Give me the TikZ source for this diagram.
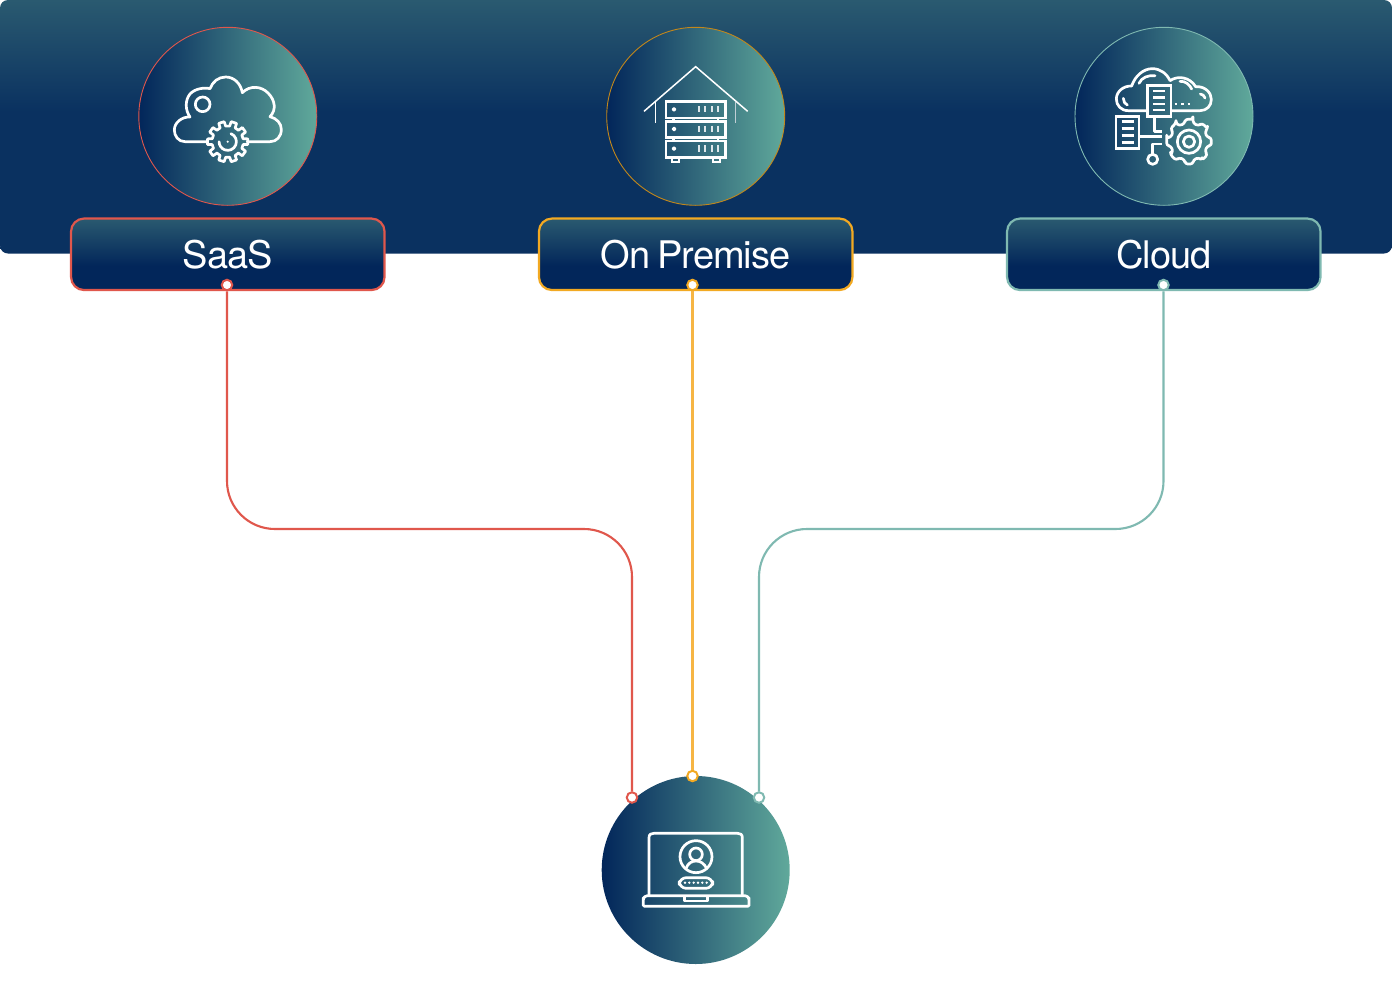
\documentclass[tikz,border=0pt]{standalone}
\usepackage{fontspec}
\setmainfont{TeX Gyre Heros}[LetterSpace=-2.5]
\definecolor{cred}{HTML}{E0574C}
\definecolor{corange}{HTML}{F2A922}
\definecolor{cwire}{HTML}{F6B544}
\definecolor{cteal}{HTML}{7FB9B1}
\definecolor{ctop}{HTML}{2A5A70}
\definecolor{cband}{HTML}{0A3160}
\definecolor{cnavy}{HTML}{02265A}
\definecolor{cmid}{HTML}{2B5D72}
\definecolor{cright}{HTML}{60A99B}
\pgfdeclareverticalshading{bandshade}{100bp}{color(0bp)=(cband); color(53bp)=(cband); color(75bp)=(ctop); color(100bp)=(ctop)}
\pgfdeclareverticalshading{boxshade}{100bp}{color(0bp)=(cnavy); color(42bp)=(cnavy); color(75bp)=(ctop); color(100bp)=(ctop)}
\tikzset{
  disc/.style={circle,inner sep=0pt,left color=cnavy,middle color=cmid,right color=cright},
  topdisc/.style={disc,minimum size=178pt,line width=.9pt},
  label box/.style={rectangle,rounded corners=13pt,minimum width=313.5pt,minimum height=71.5pt,inner sep=0pt,shading=boxshade,line width=2.2pt,text=white,font=\fontsize{38}{38}\selectfont},
  pin/.style={circle,fill=white,inner sep=0pt,minimum size=10.5pt,line width=2pt},
  wire/.style={line width=2.1pt,rounded corners=48pt},
  ic/.style={white,line width=2.7pt,line join=round,line cap=round},
  icthin/.style={white,line width=1.5pt},
  zoomed/.style 2 args={shift={(#1,#2)},x=.33333pt,y=-.33333pt}
}
% gear: teeth number, outer, inner radius (zoom units)
\newcommand{\gearpath}[5]{% cx cy teeth outer inner
  \pgfmathsetmacro{\stp}{360/#3}
  \draw[ic] ({#1+#4*cos(\stp*0.22)},{#2+#4*sin(\stp*0.22)})
    \foreach \k in {0,...,\numexpr#3-1\relax}{
      \pgfextra{\pgfmathsetmacro{\aa}{\k*\stp+\stp*0.22}\pgfmathsetmacro{\ab}{\k*\stp+\stp*0.30}\pgfmathsetmacro{\ac}{\k*\stp+\stp*0.70}\pgfmathsetmacro{\ad}{\k*\stp+\stp*0.78}\pgfmathsetmacro{\ae}{\k*\stp+\stp*1.22}}
      -- ({#1+#4*cos(\aa)},{#2+#4*sin(\aa)})
      -- ({#1+#5*cos(\ab)},{#2+#5*sin(\ab)})
      -- ({#1+#5*cos(\ac)},{#2+#5*sin(\ac)})
      -- ({#1+#4*cos(\ad)},{#2+#4*sin(\ad)})
      -- ({#1+#4*cos(\ae)},{#2+#4*sin(\ae)})
    } -- cycle;
}
\begin{document}
\begin{tikzpicture}[x=1pt,y=-1pt]
\useasboundingbox (0,0) rectangle (1392,1007);
\fill[white] (0,0) rectangle (1392,1007);
% band
\path[shading=bandshade,rounded corners=8pt] (0,0) rectangle (1392,253.5);
% discs
\node[topdisc,draw=cred] (saasdisc) at (227.8,116.3) {};
\node[topdisc,draw=corange!80!black] (premdisc) at (695.7,116.3) {};
\node[topdisc,draw=cteal] (clouddisc) at (1164,116.3) {};
\node[disc,minimum size=188pt] (userdisc) at (695.7,870) {};
% label boxes
\node[label box,draw=cred] (saas) at (227.8,254.3) {SaaS};
\node[label box,draw=corange] (prem) at (695.7,254.3) {On\hspace{-3pt} Premise};
\node[label box,draw=cteal] (cloud) at (1163.8,254.3) {Cloud};
% pins
\node[pin,draw=cred] (pa) at (227,285) {};
\node[pin,draw=corange] (pb) at (692.5,285) {};
\node[pin,draw=cteal] (pc) at (1163.5,285) {};
\node[pin,draw=cred] (qa) at (632,797.5) {};
\node[pin,draw=corange] (qb) at (692.5,776) {};
\node[pin,draw=cteal] (qc) at (759,797.5) {};
\coordinate (bendA) at (632,529);
\coordinate (bendC) at (759,529);
% connectors
\draw[wire,cred] (pa.south) |- (bendA) -- (qa.north);
\draw[wire,cwire] (pb.south) -- (qb.north);
\draw[wire,cteal] (pc.south) |- (bendC) -- (qc.north);
% SaaS icon
\begin{scope}[zoomed={130}{20}]
\draw[ic] (232,365) -- (165,365) .. controls (145,365) and (133,348) .. (133,330)
  .. controls (133,308) and (155,290) .. (180,291)
  .. controls (165,270) and (165,240) .. (180,222)
  .. controls (195,205) and (225,202) .. (240,206)
  .. controls (248,185) and (265,171) .. (287,171)
  .. controls (312,171) and (332,190) .. (337,218)
  .. controls (360,195) and (395,198) .. (415,220)
  .. controls (435,240) and (440,270) .. (420,290)
  .. controls (440,295) and (454,310) .. (454,328)
  .. controls (454,350) and (440,365) .. (420,365) -- (352,365);
\draw[ic] (218,253) circle[radius=22];
\gearpath{293}{365}{10}{61}{47}
\draw[ic] (303,341) arc[start angle=-68,end angle=180,radius=26];
\fill[white] (293,365) circle[radius=3.5];
\end{scope}
% On premise icon
\begin{scope}[zoomed={600}{20}]
\draw[icthin] (132,274) -- (287,140) -- (443,274);
\draw[icthin] (166,245) -- (166,308);
\draw[icthin,white!70!cmid] (407,245) -- (407,308);
\foreach \y in {245,304,363}{
  \draw[ic,line cap=butt,line join=miter] (198,\y) rectangle (376,\y+49);
  \draw[ic,line width=2pt] (222,\y+23) circle[radius=4];
  \foreach \x in {297,316,335,354}{\draw[ic,line width=2pt,line cap=butt,white!85!cmid] (\x,\y+13) -- (\x,\y+32);}
}
\foreach \y in {294,353}{\draw[ic,line cap=butt] (220,\y) -- (220,\y+10);\draw[ic,line cap=butt] (354,\y) -- (354,\y+10);}
\draw[ic,line width=2.2pt,line cap=butt,line join=miter] (216,412) -- (216,426) -- (237,426) -- (237,412);
\draw[ic,line width=2.2pt,line cap=butt,line join=miter] (338,412) -- (338,426) -- (359,426) -- (359,412);
\end{scope}
% Cloud icon
\begin{scope}[zoomed={1065}{20}]
\draw[ic] (247,272) -- (190,272) .. controls (168,272) and (154,256) .. (154,237)
  .. controls (154,215) and (175,197) .. (200,198)
  .. controls (210,168) and (235,146) .. (262,146)
  .. controls (285,146) and (305,160) .. (315,182)
  .. controls (340,165) and (375,172) .. (392,200)
  .. controls (420,198) and (439,218) .. (439,238)
  .. controls (439,258) and (425,272) .. (405,272) -- (320,272);
\draw[ic] (222,190) .. controls (230,172) and (250,165) .. (270,167);
\draw[ic] (345,184) .. controls (360,182) and (375,195) .. (380,207);
\draw[ic] (175,235) .. controls (175,245) and (180,252) .. (187,255);
\draw[ic] (406,222) .. controls (413,222) and (418,228) .. (420,234);
\draw[ic,line cap=butt,line join=miter,fill=none] (248,197) rectangle (318,290);
\foreach \y in {213,232,252,270}{\draw[ic,line cap=butt] (265,\y) -- (301,\y);}
\foreach \x in {333,352,372}{\draw[ic,line cap=butt] (\x-4,252) -- (\x+4,252);}
\draw[ic,line cap=butt] (268,290) -- (268,335) -- (291,335);
\draw[ic,line cap=butt,line join=miter] (153,290) rectangle (222,385);
\foreach \y in {305,325,347,367}{\draw[ic,line cap=butt] (170,\y) -- (207,\y);}
\draw[ic,line cap=butt] (222,350) -- (291,350);
\draw[ic,line cap=butt] (291,372) -- (263,372) -- (263,403);
\draw[ic] (263,418) circle[radius=15];
\begin{scope}[rounded corners=2.5pt]
\gearpath{372}{365}{8}{68}{56}
\end{scope}
\draw[ic] (372,365) circle[radius=35];
\draw[ic] (372,365) circle[radius=17];
\end{scope}
% Laptop icon
\begin{scope}[zoomed={595}{765}]
\draw[ic] (162,392) -- (162,218) .. controls (162,208) and (168,205) .. (176,205) -- (428,205) .. controls (436,205) and (442,208) .. (442,218) -- (442,392);
\draw[ic,rounded corners=4pt] (145,392) -- (145,410) .. controls (145,420) and (150,424) .. (160,424) -- (447,424) .. controls (457,424) and (462,420) .. (462,410) -- (462,392) -- cycle;
\draw[ic,line cap=butt] (268,394) -- (268,408) -- (338,408) -- (338,394);
\draw[ic] (303,275) circle[radius=48];
\draw[ic] (303,268) circle[radius=19];
\draw[ic] (273,311) .. controls (278,295) and (290,288) .. (303,288) .. controls (316,288) and (328,295) .. (335,311);
\draw[ic,rounded corners=7pt] (253,338) rectangle (353,370);
\foreach \x in {270,283,296,309,322,335}{\fill[white] (\x,353) circle[radius=4];}
\end{scope}
\end{tikzpicture}
\end{document}
